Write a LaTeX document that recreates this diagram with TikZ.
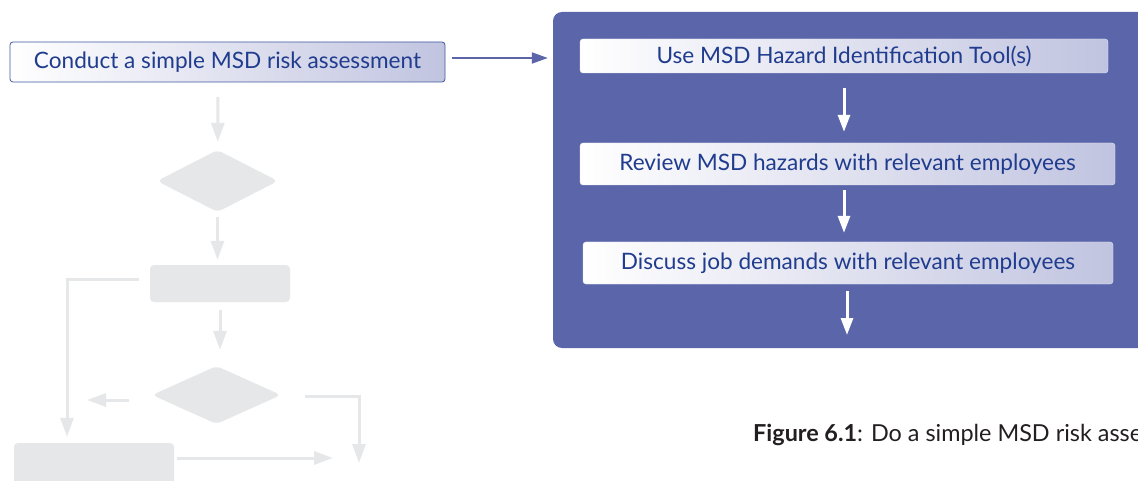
\documentclass[tikz,border=0pt]{standalone}
\usepackage{fontspec}
\setmainfont{Lato}
\usetikzlibrary{arrows.meta,shapes.geometric}
\definecolor{msdblue}{HTML}{5B66AA}
\definecolor{msdtext}{HTML}{203C8E}
\definecolor{msdlav}{HTML}{C1C4E0}
\definecolor{ghost}{HTML}{E6E7E8}
\definecolor{captext}{HTML}{231F20}
\tikzset{
  stepbox/.style={rounded corners=3pt, left color=white, right color=msdlav, draw=white!60!msdlav, text=msdtext, font=\fontsize{22.6}{24}\selectfont, inner sep=0pt},
  ghostbox/.style={rounded corners=4pt, fill=ghost, inner sep=0pt},
  ghostdiam/.style={diamond, aspect=2, rounded corners=5pt, fill=ghost, inner sep=0pt},
  ghostarrow/.style={draw=ghost, line width=3pt, -{Triangle[length=19pt,width=13pt]}},
  whitearrow/.style={draw=white, line width=3pt, -{Triangle[length=17pt,width=12pt]}},
  bluearrow/.style={draw=msdblue, line width=2pt, -{Triangle[length=16pt,width=11pt]}},
}
\begin{document}
\begin{tikzpicture}[x=1pt,y=-1pt]
\clip (0,0) rectangle (1138,481);
\fill[white] (0,0) rectangle (1138,481);
\node[rounded corners=9pt, fill=msdblue, minimum width=620pt, minimum height=336pt] (msdpanel) at (863,180){};
\node[stepbox, draw=msdtext!85, line width=0.8pt, minimum width=435pt, minimum height=40pt] (lbox) at (227.5,62){Conduct a simple MSD risk assessment};
\node[stepbox, minimum width=528pt, minimum height=34pt] (b1) at (844,56){Use MSD Hazard Identification Tool(s)};
\node[stepbox, minimum width=535pt, minimum height=42pt] (b2) at (847.5,164){Review MSD hazards with relevant employees};
\node[stepbox, minimum width=530pt, minimum height=42pt] (b3) at (848,263){Discuss job demands with relevant employees};
\coordinate (bend) at (847,335);
\draw[bluearrow, shorten <=7pt, shorten >=5pt] ([yshift=4pt]lbox.east) -- ([yshift=4pt]lbox.east -| msdpanel.west);
\draw[whitearrow, shorten <=15pt, shorten >=11pt] (b1.south) -- (b1.south |- b2.north);
\draw[whitearrow, shorten <=5pt, shorten >=9pt] (b2.south -| b1.south) -- (b1.south |- b3.north);
\draw[whitearrow, shorten <=7pt] (b3.south -| bend) -- (bend);

\node[ghostdiam, minimum width=121pt, minimum height=62pt] (gd1) at (217.5,181){};
\node[ghostbox, minimum width=140pt, minimum height=37pt] (gr1) at (220,283.5){};
\node[ghostdiam, minimum width=129pt, minimum height=58pt] (gd2) at (216.5,395){};
\node[ghostbox, minimum width=160pt, minimum height=60pt] (gr2) at (94,473){};
\coordinate (g0) at (218,97);
\coordinate (gl) at (87,400);
\coordinate (gr) at (359,463);
\coordinate (gb) at (333,458);
\draw[ghostarrow, shorten >=8pt] (g0) -- (gd1);
\draw[ghostarrow, shorten <=5pt, shorten >=5pt] (gd1.south) -- (gd1.south |- gr1.north);
\draw[ghostarrow, shorten <=8pt, shorten >=16pt] (gr1.south) -- (gr1.south |- gd2.north);
\draw[ghostarrow, shorten <=11pt, shorten >=6pt] ([yshift=4.5pt]gr1.west) -| ([xshift=-27pt]gr2.north);
\draw[ghostarrow, shorten <=23pt] ([yshift=-5pt]gd2.west) -- (gl);
\draw[ghostarrow, shorten <=24pt] ([yshift=-1pt]gd2.east) -| (gr);
\draw[ghostarrow, shorten <=3pt] ([yshift=15pt]gr2.east) -- (gb);

\node[anchor=base west, text=captext, font=\fontsize{23.4}{25}\selectfont, inner sep=0pt] (cap) at (753,441){\textbf{Figure 6.1}: Do a simple MSD risk assessment};
\end{tikzpicture}
\end{document}
